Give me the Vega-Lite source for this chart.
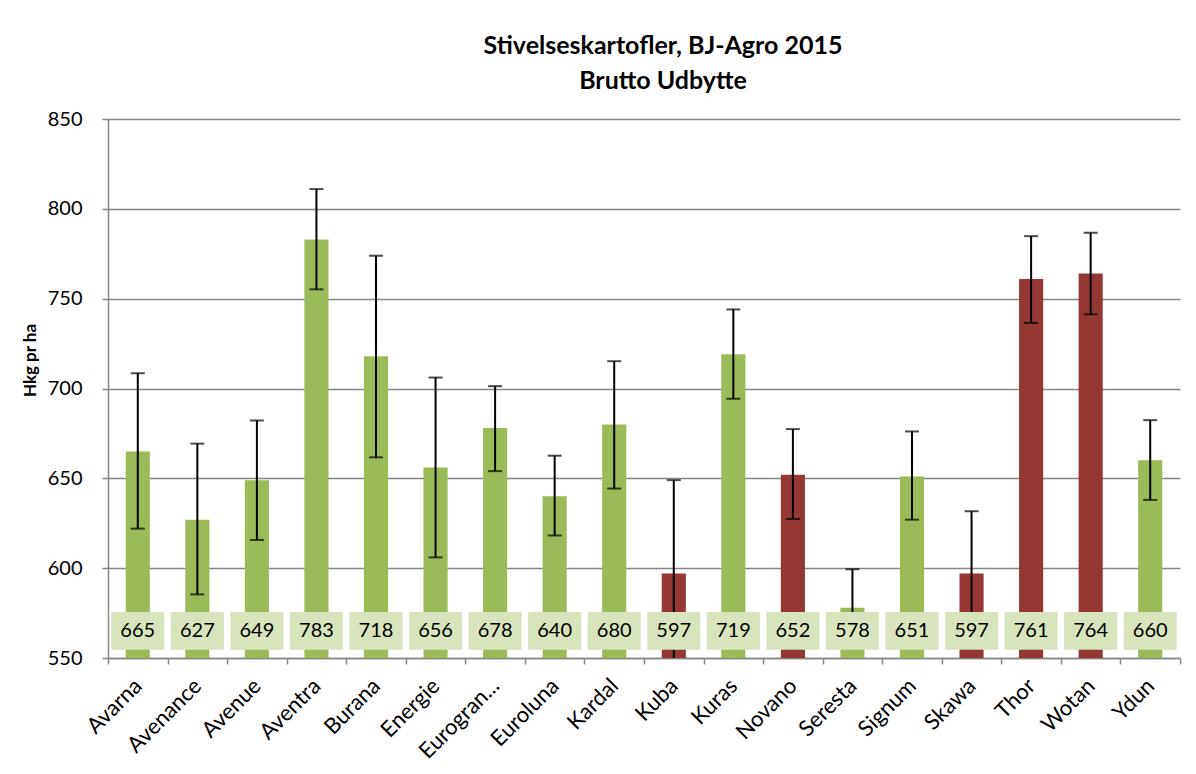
{
  "$schema": "https://vega.github.io/schema/vega-lite/v6.json",
  "autosize": "none",
  "width": 1072,
  "height": 539,
  "padding": {"left": 108, "top": 119, "right": 16, "bottom": 116},
  "background": "white",
  "config": {
    "font": "Lato",
    "view": {"stroke": null}
  },
  "title": {
    "text": ["Stivelseskartofler, BJ-Agro 2015", "Brutto Udbytte"],
    "fontSize": 25,
    "fontWeight": "bold",
    "color": "#000000",
    "lineHeight": 35,
    "anchor": "middle",
    "dx": 19,
    "offset": 15,
    "font": "Lato"
  },
  "data": {
    "values": [
      {"sort": "Avarna", "value": 665, "lo": 622, "hi": 708.5, "type": "green"},
      {"sort": "Avenance", "value": 627, "lo": 585.4, "hi": 669.3, "type": "green"},
      {"sort": "Avenue", "value": 649, "lo": 615.7, "hi": 682.2, "type": "green"},
      {"sort": "Aventra", "value": 783, "lo": 755.2, "hi": 811, "type": "green"},
      {"sort": "Burana", "value": 718, "lo": 661.7, "hi": 773.9, "type": "green"},
      {"sort": "Energie", "value": 656, "lo": 606, "hi": 706.1, "type": "green"},
      {"sort": "Eurogran...", "value": 678, "lo": 654, "hi": 701.3, "type": "green"},
      {"sort": "Euroluna", "value": 640, "lo": 618.2, "hi": 662.6, "type": "green"},
      {"sort": "Kardal", "value": 680, "lo": 644.3, "hi": 715.2, "type": "green"},
      {"sort": "Kuba", "value": 597, "lo": 545, "hi": 649, "type": "red"},
      {"sort": "Kuras", "value": 719, "lo": 694.3, "hi": 744, "type": "green"},
      {"sort": "Novano", "value": 652, "lo": 627.4, "hi": 677.4, "type": "red"},
      {"sort": "Seresta", "value": 578, "lo": 557, "hi": 599.4, "type": "green"},
      {"sort": "Signum", "value": 651, "lo": 627, "hi": 676.1, "type": "green"},
      {"sort": "Skawa", "value": 597, "lo": 562, "hi": 631.7, "type": "red"},
      {"sort": "Thor", "value": 761, "lo": 736.5, "hi": 784.8, "type": "red"},
      {"sort": "Wotan", "value": 764, "lo": 741.3, "hi": 786.7, "type": "red"},
      {"sort": "Ydun", "value": 660, "lo": 638, "hi": 682.4, "type": "green"}
    ]
  },
  "encoding": {
    "x": {
      "field": "sort",
      "type": "nominal",
      "sort": null,
      "scale": {"paddingInner": 0, "paddingOuter": 0},
      "axis": {
        "title": null,
        "labelAngle": -45,
        "labelAlign": "right",
        "labelBaseline": "middle",
        "labelFontSize": 22,
        "labelColor": "#000000",
        "labelPadding": 18,
        "labelLimit": 200,
        "bandPosition": 0,
        "tickBand": "extent",
        "tickColor": "#868686",
        "tickWidth": 1.5,
        "tickSize": 6,
        "domainColor": "#868686",
        "domainWidth": 1.5,
        "grid": false
      }
    }
  },
  "layer": [
    {
      "mark": {"type": "bar", "width": {"band": 0.405}, "clip": true},
      "encoding": {
        "y": {
          "field": "value",
          "type": "quantitative",
          "scale": {"domain": [550, 850], "zero": false, "nice": false},
          "axis": {
            "title": "Hkg pr ha",
            "titleFontSize": 17,
            "titleFontWeight": "bold",
            "titleColor": "#000000",
            "titleAngle": -90,
            "titleX": -78,
            "titleY": 241,
            "titleAlign": "center",
            "titleBaseline": "middle",
            "values": [550, 600, 650, 700, 750, 800, 850],
            "labelFontSize": 20,
            "labelColor": "#000000",
            "labelPadding": 20,
            "tickColor": "#868686",
            "tickWidth": 1.5,
            "tickSize": 6,
            "domainColor": "#868686",
            "domainWidth": 1.5,
            "grid": true,
            "gridColor": "#868686",
            "gridWidth": 1.5
          }
        },
        "y2": {"datum": 550},
        "color": {
          "field": "type",
          "type": "nominal",
          "scale": {"domain": ["green", "red"], "range": ["#9BBB59", "#953735"]},
          "legend": null
        }
      }
    },
    {
      "mark": {"type": "rule", "color": "#000000", "strokeWidth": 2, "clip": true},
      "encoding": {
        "y": {"field": "lo", "type": "quantitative"},
        "y2": {"field": "hi"}
      }
    },
    {
      "mark": {"type": "tick", "color": "#000000", "thickness": 2, "size": 14, "clip": true},
      "encoding": {"y": {"field": "hi", "type": "quantitative"}}
    },
    {
      "mark": {"type": "tick", "color": "#000000", "thickness": 2, "size": 14, "clip": true},
      "encoding": {"y": {"field": "lo", "type": "quantitative"}}
    },
    {
      "mark": {"type": "bar", "width": {"band": 0.89}, "color": "#D7E4BD"},
      "encoding": {
        "y": {"datum": 554.6, "type": "quantitative"},
        "y2": {"datum": 575.6}
      }
    },
    {
      "mark": {"type": "text", "fontSize": 20, "color": "#000000", "baseline": "middle", "align": "center"},
      "encoding": {
        "y": {"datum": 565, "type": "quantitative"},
        "text": {"field": "value", "type": "quantitative"}
      }
    }
  ]
}
